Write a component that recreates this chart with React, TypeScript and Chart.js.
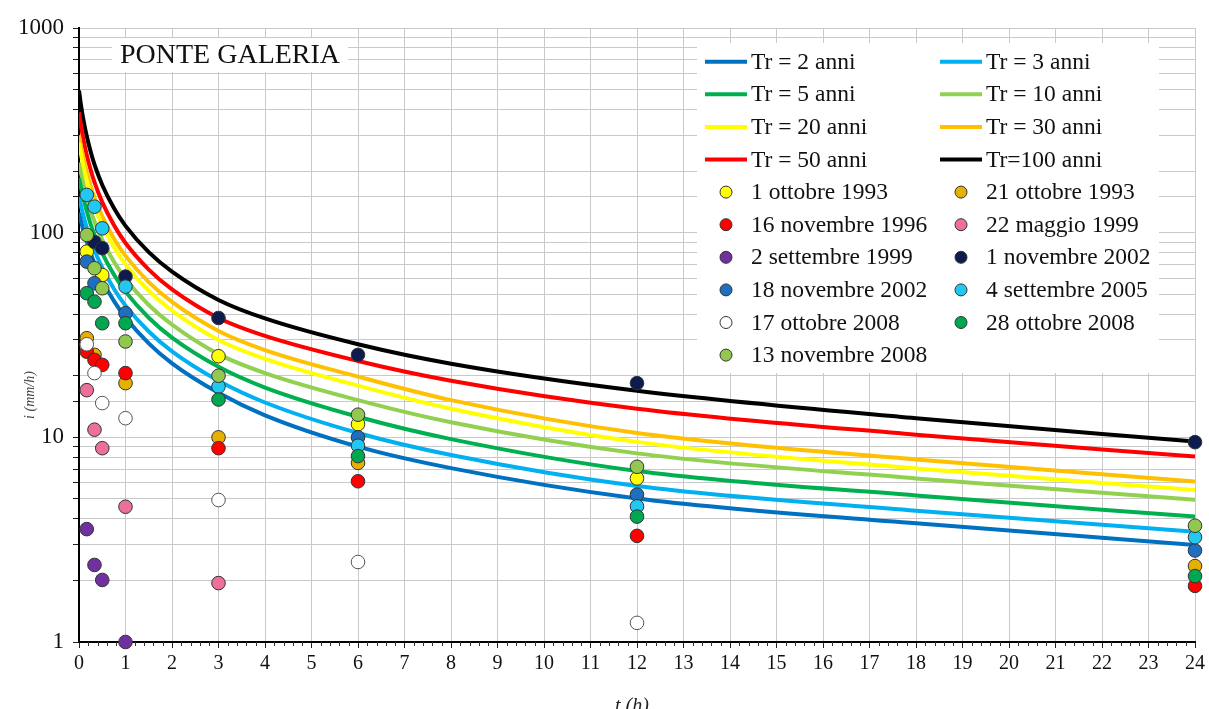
import React, { useEffect, useRef } from "react";
import { Chart, registerables } from "chart.js";

Chart.register(...registerables);

// ---------- DATA ----------
const chartTitle = "PONTE GALERIA";
const xTitle = "t (h)";
const yTitle = "i (mm/h)";
const yTickLabels = [1, 10, 100, 1000];
const xMin = 0;
const xMax = 24;

// IDF curves (durations in hours, intensities in mm/h)
const curveTimes = [0, 0.05, 0.1, 0.17, 0.25, 0.33, 0.5, 0.75, 1, 1.5, 2, 3, 4, 6, 8, 12, 18, 24];
const tr2 = [125, 112, 101, 89.9, 79.5, 71.3, 58.5, 46.4, 38.5, 28.8, 23.0, 16.5, 12.8, 9.0, 7.07, 5.03, 3.8, 2.98];
const tr3 = [150, 133, 120, 105, 92.5, 82.6, 67.4, 53.2, 44, 32.9, 26.3, 18.9, 14.8, 10.5, 8.2, 5.79, 4.38, 3.46];
const tr5 = [185, 163, 145, 127, 110, 98.1, 79.5, 62.4, 51.5, 38.4, 30.7, 22.1, 17.5, 12.6, 9.8, 6.85, 5.2, 4.1];
const tr10 = [220, 192, 171, 148, 129, 114, 92.2, 72.2, 59.5, 44.3, 35.5, 25.5, 20.6, 15.2, 11.85, 8.35, 6.3, 4.95];
const tr20 = [275, 237, 209, 179, 155, 136, 109, 85.1, 70, 52.0, 41.6, 29.9, 24.2, 17.9, 13.8, 9.5, 7.05, 5.53];
const tr30 = [299, 258, 228, 196, 169, 149, 120, 93.6, 77, 57.3, 45.9, 33.1, 26.7, 19.8, 15.2, 10.5, 7.8, 6.08];
const tr50 = [387, 325, 282, 238, 203, 177, 141, 109, 89, 66.0, 52.8, 38.3, 31.3, 23.6, 18.9, 13.8, 10.3, 8.05];
const tr100 = [495, 410, 351, 294, 249, 216, 171, 132, 108, 80.3, 64.5, 46.9, 38.1, 28.5, 22.9, 16.9, 12.4, 9.53];

const curveLabels = [
  "Tr = 2 anni", "Tr = 3 anni", "Tr = 5 anni", "Tr = 10 anni",
  "Tr = 20 anni", "Tr = 30 anni", "Tr = 50 anni", "Tr=100 anni",
];
const curveSeries = [tr2, tr3, tr5, tr10, tr20, tr30, tr50, tr100];
const curveColors = ["#0070C0", "#00B0F0", "#00B050", "#92D050", "#FFFF00", "#FFC000", "#FF0000", "#000000"];

// Observed events (durations: 10', 20', 30', 1h, 3h, 6h, 12h, 24h)
const eventDurations = [0.167, 0.333, 0.5, 1, 3, 6, 12, 24];
const ev19931001 = [80.8, null, 62.1, null, 24.9, 11.6, 6.3, null];
const ev19931021 = [30.5, 25.3, null, 18.4, 10.0, 7.5, null, 2.35];
const ev19961116 = [26.2, 23.9, 22.6, 20.6, 8.85, 6.1, 3.3, 1.88];
const ev19990522 = [17.0, 10.9, 8.85, 4.58, 1.94, null, null, null];
const ev19990902 = [3.56, 2.38, 2.01, 1.0, null, null, null, null];
const ev20021101 = [null, 90, 84, 61, 38.3, 25.3, 18.4, 9.47];
const ev20021118 = [72.2, 56.6, null, 40.4, null, 10.0, 5.25, 2.8];
const ev20050904 = [153, 134, 105, 54.5, 17.7, 9.1, 4.6, 3.25];
const ev20081017 = [28.5, 20.6, 14.7, 12.4, 4.94, 2.46, 1.24, null];
const ev20081028 = [50.6, 46, 36.1, 36.1, 15.3, 8.1, 4.1, 2.1];
const ev20081113 = [97.5, 67, 53.5, 29.4, 20.0, 12.9, 7.18, 3.7];

const eventLabels = [
  "1 ottobre 1993", "21 ottobre 1993", "16 novembre 1996", "22 maggio 1999",
  "2 settembre 1999", "1 novembre 2002", "18 novembre 2002", "4 settembre 2005",
  "17 ottobre 2008", "28 ottobre 2008", "13 novembre 2008",
];
const eventSeries = [
  ev19931001, ev19931021, ev19961116, ev19990522, ev19990902, ev20021101,
  ev20021118, ev20050904, ev20081017, ev20081028, ev20081113,
];
const eventColors = [
  "#FFFF00", "#E6B000", "#FF0000", "#EC7097", "#7030A0", "#0D1B4F",
  "#1F6FC0", "#22C8F2", "#FFFFFF", "#00A650", "#92C850",
];

const SERIF = '"Liberation Serif", "Times New Roman", "DejaVu Serif", serif';

const overlayPlugin = {
  id: "overlay",
  beforeDatasetsDraw(chart: any) {
    const { ctx, chartArea } = chart;
    const L = chartArea.left;
    const T = chartArea.top;
    ctx.save();
    // title box
    ctx.fillStyle = "#ffffff";
    ctx.fillRect(L + 33, T + 10, 236, 34);
    ctx.fillStyle = "#111";
    ctx.font = `28px ${SERIF}`;
    ctx.textBaseline = "middle";
    ctx.textAlign = "left";
    ctx.fillText(chartTitle, L + 41, T + 28);

    // legend box
    ctx.fillStyle = "#ffffff";
    ctx.fillRect(697, 43, 462, 330);
    const rowY = (r: number) => 61.7 + r * 32.6;
    const lineX = [705, 940];
    const textX = [751, 986];
    const dotX = [726, 961];
    ctx.font = `23.5px ${SERIF}`;
    curveLabels.forEach((lab, i) => {
      const r = Math.floor(i / 2);
      const c = i % 2;
      const y = rowY(r);
      ctx.strokeStyle = curveColors[i];
      ctx.lineWidth = 4;
      ctx.beginPath();
      ctx.moveTo(lineX[c], y);
      ctx.lineTo(lineX[c] + 42, y);
      ctx.stroke();
      ctx.fillStyle = "#111";
      ctx.fillText(lab, textX[c], y + 1);
    });
    eventLabels.forEach((lab, i) => {
      const r = 4 + Math.floor(i / 2);
      const c = i % 2;
      const y = rowY(r);
      ctx.beginPath();
      ctx.arc(dotX[c], y, 6, 0, Math.PI * 2);
      ctx.fillStyle = eventColors[i];
      ctx.fill();
      ctx.lineWidth = 1;
      ctx.strokeStyle = "#333";
      ctx.stroke();
      ctx.fillStyle = "#111";
      ctx.fillText(lab, textX[c], y + 1);
    });
    ctx.restore();
  },
  afterDraw(chart: any) {
    const { ctx, chartArea, scales } = chart;
    ctx.save();
    // minor x ticks
    ctx.strokeStyle = "#333";
    ctx.lineWidth = 1;
    for (let k = 1; k < (xMax - xMin) * 5; k++) {
      if (k % 5 === 0) continue;
      const px = Math.round(scales.x.getPixelForValue(xMin + k * 0.2)) + 0.5;
      ctx.beginPath();
      ctx.moveTo(px, chartArea.bottom);
      ctx.lineTo(px, chartArea.bottom + 4);
      ctx.stroke();
    }
    // axis titles
    ctx.fillStyle = "#222";
    ctx.font = `italic 20px ${SERIF}`;
    ctx.textAlign = "center";
    ctx.textBaseline = "alphabetic";
    ctx.fillText(xTitle, 632, 712);
    ctx.translate(30, 395);
    ctx.rotate(-Math.PI / 2);
    ctx.font = `italic 14px ${SERIF}`;
    ctx.fillStyle = "#444";
    ctx.textBaseline = "middle";
    ctx.fillText(yTitle, 0, 0);
    ctx.restore();
  },
};

export default function App() {
  const canvasRef = useRef<HTMLCanvasElement | null>(null);

  useEffect(() => {
    if (!canvasRef.current) return;
    Chart.defaults.font.family = SERIF;

    const curveDatasets = curveSeries.map((vals, i) => ({
      type: "scatter" as const,
      label: curveLabels[i],
      data: curveTimes.map((t, j) => ({ x: t, y: vals[j] })),
      showLine: true,
      borderColor: curveColors[i],
      backgroundColor: curveColors[i],
      borderWidth: 4,
      pointRadius: 0,
      pointHoverRadius: 0,
      cubicInterpolationMode: "monotone" as const,
      order: 100,
    }));

    const eventDatasets = eventSeries.map((vals, k) => ({
      type: "scatter" as const,
      label: eventLabels[k],
      data: eventDurations
        .map((t, j) => ({ x: t, y: vals[j] }))
        .filter((p) => p.y !== null && p.y !== undefined),
      backgroundColor: eventColors[k],
      borderColor: eventColors[k] === "#FFFFFF" ? "#555" : "#333",
      borderWidth: 1,
      pointRadius: 6.8,
      pointHoverRadius: 6.8,
      clip: false as any,
      order: 50 - k,
    }));

    const chart = new Chart(canvasRef.current, {
      type: "scatter",
      data: { datasets: [...curveDatasets, ...eventDatasets] as any },
      options: {
        animation: false,
        responsive: true,
        maintainAspectRatio: false,
        layout: { padding: { top: 28, right: 11, bottom: 0, left: 0 } },
        plugins: {
          legend: { display: false },
          tooltip: { enabled: false },
          title: { display: false },
        },
        scales: {
          x: {
            type: "linear",
            min: xMin,
            max: xMax,
            afterFit: (s: any) => {
              s.height = 67;
            },
            ticks: {
              stepSize: 1,
              autoSkip: false,
              maxRotation: 0,
              color: "#111",
              font: { size: 20, family: SERIF },
              padding: 4,
            },
            grid: {
              color: "#c9c9c9",
              lineWidth: 1,
              drawTicks: true,
              tickLength: 6,
              tickColor: "#222",
            },
            border: { display: true, color: "#000", width: 2 },
          },
          y: {
            type: "logarithmic",
            min: 1,
            max: 1000,
            afterFit: (s: any) => {
              s.width = 79;
            },
            ticks: {
              autoSkip: false,
              color: "#111",
              font: { size: 23, family: SERIF },
              padding: 9,
              callback: (v: any) => (yTickLabels.includes(Number(v)) ? String(v) : ""),
            },
            grid: {
              color: "#c9c9c9",
              lineWidth: 1,
              drawTicks: true,
              tickLength: 6,
              tickColor: "#222",
            },
            border: { display: true, color: "#000", width: 2 },
          },
        },
      },
      plugins: [overlayPlugin],
    });

    return () => chart.destroy();
  }, []);

  return (
    <div style={{ position: "fixed", left: 0, top: 0, width: 1209, height: 709, background: "#fff" }}>
      <canvas ref={canvasRef} />
    </div>
  );
}
